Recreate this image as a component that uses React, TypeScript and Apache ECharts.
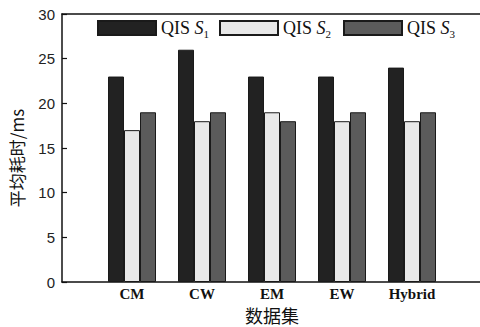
import React, { useEffect, useRef } from "react";
import * as echarts from "echarts";

const categories = ["", "CM", "CW", "EM", "EW", "Hybrid", ""];
const seriesNames = ["QIS S1", "QIS S2", "QIS S3"];
const legendLabels = ["{a|QIS }{b|S}{c|1}", "{a|QIS }{b|S}{c|2}", "{a|QIS }{b|S}{c|3}"];
const s1Values = [null, 23, 26, 23, 23, 24, null];
const s2Values = [null, 17, 18, 19, 18, 18, null];
const s3Values = [null, 19, 19, 18, 19, 19, null];
const yTicks = { min: 0, max: 30, interval: 5 };
const colors = ["#222222", "#e8e8e8", "#5b5b5b"];
const legendLefts = [97, 219, 343];

export default function App() {
  const ref = useRef<HTMLDivElement>(null);
  useEffect(() => {
    if (!ref.current) return;
    const chart = echarts.init(ref.current, null, { renderer: "svg" });
    const values = [s1Values, s2Values, s3Values];
    const rich = {
      a: { fontFamily: "Liberation Serif", fontSize: 18, color: "#111", lineHeight: 22 },
      b: { fontFamily: "Liberation Serif", fontSize: 18, fontStyle: "italic", color: "#111", lineHeight: 22 },
      c: { fontFamily: "Liberation Serif", fontSize: 11, color: "#111", lineHeight: 11, verticalAlign: "bottom" },
    };
    chart.setOption({
      animation: false,
      backgroundColor: "#ffffff",
      grid: { left: 62, right: -2, top: 14, bottom: 45, containLabel: false, outerBoundsMode: "none" },
      legend: seriesNames.map((n, i) => ({
        data: [n],
        left: legendLefts[i],
        top: 19,
        padding: 0,
        itemWidth: 58,
        itemHeight: 14,
        icon: "rect",
        selectedMode: false,
        formatter: () => legendLabels[i],
        textStyle: { rich },
      })),
      xAxis: [
        {
          type: "category",
          data: categories,
          boundaryGap: false,
          axisLine: { lineStyle: { color: "#111", width: 1.5 } },
          axisTick: { show: false },
          axisLabel: {
            fontFamily: "Liberation Serif",
            fontWeight: "bold",
            fontSize: 15,
            color: "#111",
            margin: 4,
          },
          name: "数据集",
          nameLocation: "middle",
          nameGap: 22,
          nameTextStyle: { fontFamily: "Noto Sans CJK SC", fontSize: 18, color: "#111" },
        },
        {
          type: "value",
          position: "top",
          min: 0,
          max: 1,
          axisLine: { show: true, lineStyle: { color: "#111", width: 1.5 } },
          axisTick: { show: false },
          axisLabel: { show: false },
          splitLine: { show: false },
        },
      ],
      yAxis: {
        type: "value",
        min: yTicks.min,
        max: yTicks.max,
        interval: yTicks.interval,
        axisLine: { show: true, lineStyle: { color: "#111", width: 1.5 } },
        axisTick: { show: true, inside: true, length: 5, lineStyle: { color: "#111", width: 1.2 } },
        splitLine: { show: false },
        axisLabel: { fontFamily: "Liberation Sans", fontSize: 15, color: "#222", margin: 7 },
        name: "平均耗时/ms",
        nameLocation: "middle",
        nameGap: 37,
        nameTextStyle: { fontFamily: "Noto Sans CJK SC", fontSize: 17, color: "#111", padding: [0, 20, 0, 0] },
      },
      series: seriesNames.map((n, i) => ({
        name: n,
        type: "bar",
        data: values[i],
        barWidth: 16,
        barGap: "0%",
        itemStyle: { color: colors[i], borderColor: "#1a1a1a", borderWidth: 1 },
      })),
    });
    return () => chart.dispose();
  }, []);
  return (
    <div
      ref={ref}
      style={{ position: "absolute", left: 0, top: 0, width: 480, height: 327 }}
    />
  );
}
